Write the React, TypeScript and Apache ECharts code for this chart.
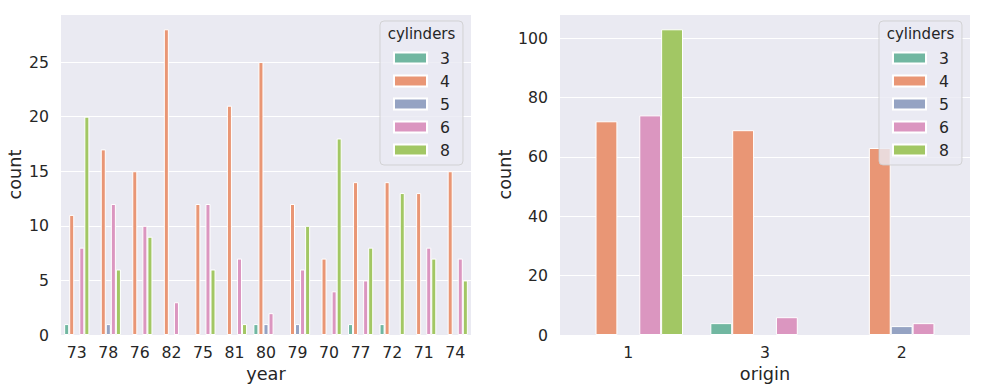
import React, { useEffect, useRef } from "react";
import * as echarts from "echarts";

const years = ["73", "78", "76", "82", "75", "81", "80", "79", "70", "77", "72", "71", "74"];
const yearCyl3 = [1, null, null, null, null, null, 1, null, null, 1, 1, null, null];
const yearCyl4 = [11, 17, 15, 28, 12, 21, 25, 12, 7, 14, 14, 13, 15];
const yearCyl5 = [null, 1, null, null, null, null, 1, 1, null, null, null, null, null];
const yearCyl6 = [8, 12, 10, 3, 12, 7, 2, 6, 4, 5, null, 8, 7];
const yearCyl8 = [20, 6, 9, null, 6, 1, null, 10, 18, 8, 13, 7, 5];

const origins = ["1", "3", "2"];
const originCyl3 = [null, 4, null];
const originCyl4 = [72, 69, 63];
const originCyl5 = [null, null, 3];
const originCyl6 = [74, 6, 4];
const originCyl8 = [103, null, null];

const cylinderNames = ["3", "4", "5", "6", "8"];
const colors = ["#71b7a1", "#e99675", "#95a3c3", "#db96c0", "#a2c764"];

const leftTicks = [0, 5, 10, 15, 20, 25];
const rightTicks = [0, 20, 40, 60, 80, 100];

const TEXT = "#262626";
const FONT = "DejaVu Sans";

export default function App() {
  const ref = useRef<HTMLDivElement>(null);
  useEffect(() => {
    if (!ref.current) return;
    const chart = echarts.init(ref.current, null, { renderer: "svg" });
    const yearData = [yearCyl3, yearCyl4, yearCyl5, yearCyl6, yearCyl8];
    const originData = [originCyl3, originCyl4, originCyl5, originCyl6, originCyl8];
    const mkSeries = (data: (number | null)[][], idx: number) =>
      data.map((d, i) => ({
        type: "bar",
        name: cylinderNames[i],
        xAxisIndex: idx,
        yAxisIndex: idx,
        data: d,
        barGap: "0%",
        barCategoryGap: "20%",
        itemStyle: { color: colors[i], borderColor: "#ffffff", borderWidth: 1 },
        emphasis: { disabled: true },
      }));
    const xAxisCommon = {
      type: "category",
      axisLine: { show: false },
      axisTick: { show: false },
      splitLine: { show: false },
      axisLabel: { color: TEXT, fontSize: 15.7, fontFamily: FONT, margin: 9 },
      nameLocation: "middle",
      nameGap: 26,
      nameTextStyle: { color: TEXT, fontSize: 17.7, fontFamily: FONT },
    };
    const yAxisCommon = (ticks: number[], max: number) => ({
      type: "value",
      min: 0,
      max,
      interval: ticks[1] - ticks[0],
      name: "count",
      nameLocation: "middle",
      nameTextStyle: { color: TEXT, fontSize: 17.7, fontFamily: FONT },
      axisLine: { show: false },
      axisTick: { show: false },
      axisLabel: {
        color: TEXT,
        fontSize: 15.7,
        fontFamily: FONT,
        margin: 12,
        showMaxLabel: false,
        formatter: (v: number) => (ticks.includes(v) ? String(v) : ""),
      },
      splitLine: { lineStyle: { color: "#ffffff", width: 1.2 } },
    });
    const legendCommon = {
      orient: "vertical",
      data: cylinderNames,
      icon: "rect",
      itemWidth: 33,
      itemHeight: 11,
      itemGap: 5,
      top: 21,
      padding: [28, 13, 6, 13],
      backgroundColor: "rgba(234,234,242,0.8)",
      borderColor: "rgba(204,204,204,0.8)",
      borderWidth: 1,
      borderRadius: 4,
      selectedMode: false,
      textStyle: { color: TEXT, fontSize: 15.7, fontFamily: FONT, lineHeight: 18, padding: [0, 0, 0, 8] },
    };
    chart.setOption({
      animation: false,
      backgroundColor: "#ffffff",
      textStyle: { fontFamily: FONT },
      grid: [
        { left: 61, top: 14, width: 410, height: 321, backgroundColor: "#eaeaf2", show: true, borderWidth: 0 },
        { left: 560, top: 14, width: 410, height: 321, backgroundColor: "#eaeaf2", show: true, borderWidth: 0 },
      ],
      xAxis: [
        { ...xAxisCommon, gridIndex: 0, data: years, name: "year" },
        { ...xAxisCommon, gridIndex: 1, data: origins, name: "origin" },
      ],
      yAxis: [
        { ...yAxisCommon(leftTicks, 28 * 1.05), gridIndex: 0, nameGap: 37 },
        { ...yAxisCommon(rightTicks, 103 * 1.05), gridIndex: 1, nameGap: 46 },
      ],
      legend: [
        { ...legendCommon, left: 380 },
        { ...legendCommon, left: 879 },
      ],
      graphic: [
        {
          type: "text",
          x: 421.5,
          y: 34,
          z: 100,
          style: { text: "cylinders", fill: TEXT, font: `15px "${FONT}"`, textAlign: "center", textVerticalAlign: "middle" },
        },
        {
          type: "text",
          x: 920.5,
          y: 34,
          z: 100,
          style: { text: "cylinders", fill: TEXT, font: `15px "${FONT}"`, textAlign: "center", textVerticalAlign: "middle" },
        },
      ],
      series: [...mkSeries(yearData, 0), ...mkSeries(originData, 1)],
    });
    return () => chart.dispose();
  }, []);
  return <div ref={ref} style={{ width: 983, height: 389, position: "absolute", left: 0, top: 0 }} />;
}
